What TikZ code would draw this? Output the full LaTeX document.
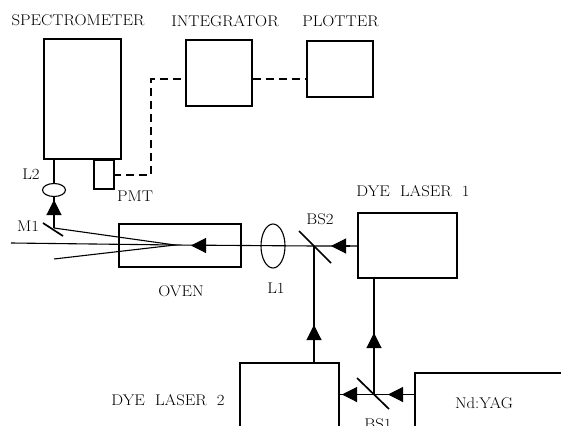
\documentclass[tikz,border=0pt]{standalone}
\usetikzlibrary{arrows.meta,shapes.geometric}
\tikzset{
 px/.style={x=1pt,y=-1pt},
 unit/.style={draw,line width=1.9pt,inner sep=0pt,minimum width=#1,anchor=north west},
 ray/.style={line width=1.1pt},
 sig/.style={line width=1.1pt,dash pattern=on 8pt off 5pt},
 optic/.style={line width=1.7pt},
 lens/.style={draw,line width=1.1pt,ellipse,inner sep=0pt},
 lab/.style={font=\fontsize{15.5}{16}\selectfont,inner sep=0pt,xscale=1.08,transform shape},
 tip/.style={-{Triangle[length=15pt,width=15pt]},shorten >=0pt},
}
\begin{document}
\begin{tikzpicture}[px]
\useasboundingbox (0,0) rectangle (561,425);
\clip (0,0) rectangle (561,425);
% boxes
\node[unit=77pt,minimum height=120pt] (spec) at (43,38) {};
\node[unit=66pt,minimum height=66pt] (integ) at (185,39) {};
\node[unit=66pt,minimum height=56pt] (plot) at (306,40) {};
\node[unit=20pt,minimum height=29pt] (pmt) at (93,159) {};
\node[unit=122pt,minimum height=43pt] (oven) at (118,223) {};
\node[unit=99pt,minimum height=65pt] (dye1) at (357,212) {};
\node[unit=99pt,minimum height=75pt] (dye2) at (239,362) {};
\node[unit=160pt,minimum height=70pt] (yag) at (414,372) {};
% lenses
\node[lens,minimum width=23pt,minimum height=13pt] (ltwo) at (54,190) {};
\node[lens,minimum width=24pt,minimum height=44pt] (lone) at (273,246) {};
% junctions
\coordinate (bstwo) at (314,246);
\coordinate (bsone) at (374,394.5);
\coordinate (mone) at (54,228);
\coordinate (focus) at (175,245);
\coordinate (beamend) at (11,243);
\coordinate (lowend) at (54,259);
\coordinate (sa) at (113,175);
\coordinate (sb) at (151,175);
\coordinate (sc) at (151,79);
% optics
\draw[optic] (299,231) -- (331,263);
\draw[optic] (357,378) -- (389,409);
\draw[optic] (43,223) -- (63,236);
% rays
\draw[ray] (dye1.west |- bstwo) -- (bstwo) -- (focus) -- (beamend);
\draw[ray] (mone) -- (focus) -- (lowend);
\draw[ray] (spec.south -| mone) -- (ltwo.north);
\draw[ray] (ltwo.south) -- (mone);
\draw[ray] (dye2.north -| bstwo) -- (bstwo);
\draw[ray] (dye1.south -| bsone) -- (bsone);
\draw[ray] (yag.west |- bsone) -- (dye2.east |- bsone);
% arrowheads
\draw[ray,tip] (54,220) -- (54,200);
\draw[ray,tip] (212,245.5) -- (191,245.5);
\draw[ray,tip] (350,246) -- (331,246);
\draw[ray,tip] (314,345) -- (314,325);
\draw[ray,tip] (374,353) -- (374,333);
\draw[ray,tip] (408,394.5) -- (388,394.5);
\draw[ray,tip] (362,394.5) -- (342,394.5);
% signal lines
\draw[sig] (sa) -- (sb) -- (sc) -- (integ.west |- sc);
\draw[sig] (integ.east |- sc) -- (plot.west |- sc);
% labels
\node[lab] (tspec) at (78,20) {SPECTROMETER};
\node[lab] (tint) at (225,21) {INTEGRATOR};
\node[lab] (tplot) at (340.5,21) {PLOTTER};
\node[lab] (tl2) at (31,174) {L2};
\node[lab] (tpmt) at (135,196) {PMT};
\node[lab] (tm1) at (28,226) {M1};
\node[lab] (toven) at (181,291) {OVEN};
\node[lab] (tl1) at (276,288) {L1};
\node[lab] (tbs2) at (320,219) {BS2};
\node[lab] (tdye1) at (413,191) {DYE\ \ LASER\ \ 1};
\node[lab] (tdye2) at (168,400) {DYE\ \ LASER\ \ 2};
\node[lab] (tyag) at (484,403) {Nd:YAG};
\node[lab] (tbs1) at (378,424) {BS1};
\end{tikzpicture}
\end{document}
